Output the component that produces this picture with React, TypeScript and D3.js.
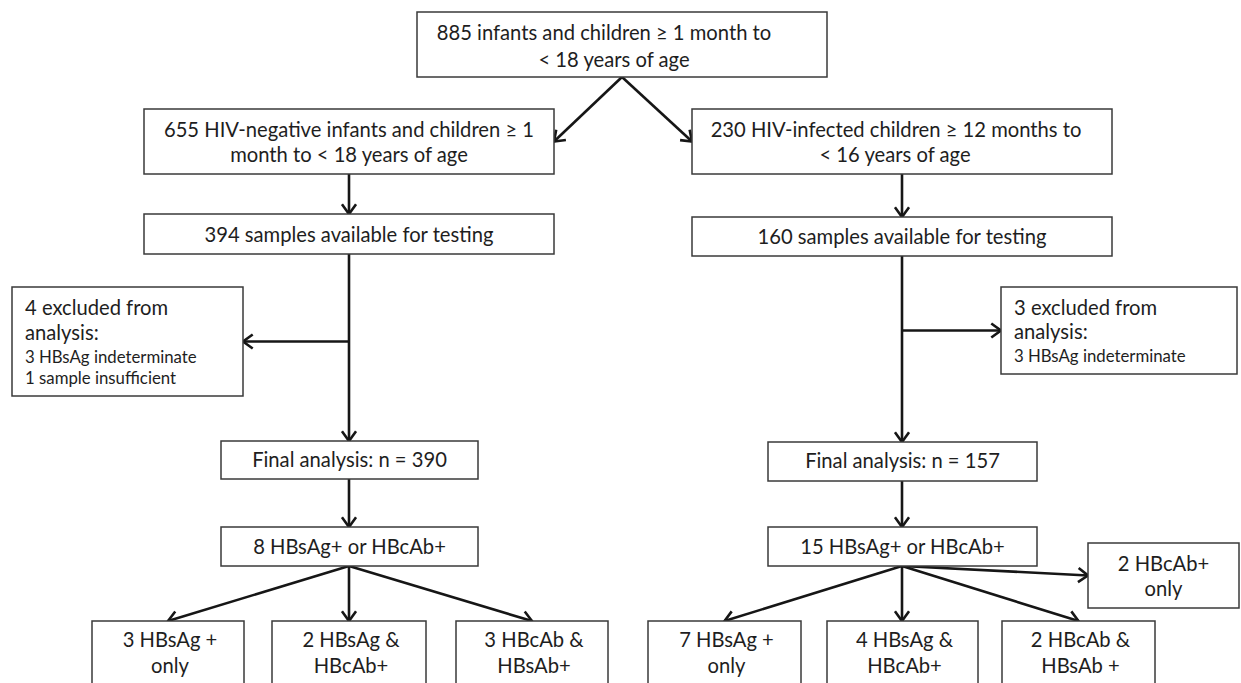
import React, { useEffect, useRef } from 'react'
import * as d3 from 'd3'

// Flow chart labels, one string per text line
const topLabel = ['885 infants and children ≥ 1 month to', '< 18 years of age']
const hivNegLabel = ['655 HIV-negative infants and children ≥ 1', 'month to < 18 years of age']
const hivPosLabel = ['230 HIV-infected children ≥ 12 months to', '< 16 years of age']
const samplesCounts = [394, 160]
const excludedCounts = [4, 3]
const excludedReasons = [
  ['3 HBsAg indeterminate', '1 sample insufficient'],
  ['3 HBsAg indeterminate'],
]
const finalCounts = [390, 157]
const positiveCounts = [8, 15]
const leftOutcomes = [['3 HBsAg +', 'only'], ['2 HBsAg &', 'HBcAb+'], ['3 HBcAb &', 'HBsAb+']]
const rightOutcomes = [['7 HBsAg +', 'only'], ['4 HBsAg &', 'HBcAb+'], ['2 HBcAb &', 'HBsAb +']]
const rightExtra = ['2 HBcAb+', 'only']

const W = 1241
const H = 683
const FONT = 'Lato, "Open Sans", sans-serif'
const BIG = 20.2
const SMALL = 16.8

interface Box {
  id: string
  x0: number
  x1: number
  y0: number
  y1: number
  lines: { text: string; y: number; size: number; dx?: number }[]
  align?: 'middle' | 'start'
  textX?: number
}

const App: React.FC = () => {
  const svgRef = useRef<SVGSVGElement | null>(null)

  useEffect(() => {
    if (!svgRef.current) return
    const svg = d3.select(svgRef.current)
    svg.selectAll('*').remove()

    const big = (text: string, y: number, dx = 0) => ({ text, y, size: BIG, dx })
    const small = (text: string, y: number) => ({ text, y, size: SMALL })

    // Box geometry (layout only, labels come from the arrays above)
    const boxes: Box[] = [
      { id: 'top', x0: 417, x1: 827, y0: 12, y1: 77, lines: [big(topLabel[0], 40, -18), big(topLabel[1], 67, -8)] },
      { id: 'neg', x0: 144, x1: 554, y0: 109, y1: 174, lines: [big(hivNegLabel[0], 137), big(hivNegLabel[1], 162)] },
      { id: 'pos', x0: 692, x1: 1112, y0: 109, y1: 174, lines: [big(hivPosLabel[0], 137, -6), big(hivPosLabel[1], 162, -7)] },
      { id: 'sampL', x0: 144, x1: 554, y0: 214, y1: 254, lines: [big(`${samplesCounts[0]} samples available for testing`, 242)] },
      { id: 'sampR', x0: 692, x1: 1112, y0: 217, y1: 256, lines: [big(`${samplesCounts[1]} samples available for testing`, 244)] },
      {
        id: 'exclL', x0: 12, x1: 243, y0: 287, y1: 396, align: 'start', textX: 25,
        lines: [big(`${excludedCounts[0]} excluded from`, 315), big('analysis:', 340), small(excludedReasons[0][0], 363), small(excludedReasons[0][1], 384)],
      },
      {
        id: 'exclR', x0: 1001, x1: 1237, y0: 287, y1: 374, align: 'start', textX: 1014,
        lines: [big(`${excludedCounts[1]} excluded from`, 315), big('analysis:', 339), small(excludedReasons[1][0], 362)],
      },
      { id: 'finL', x0: 221, x1: 478, y0: 441, y1: 479, lines: [big(`Final analysis: n = ${finalCounts[0]}`, 467)] },
      { id: 'finR', x0: 768, x1: 1037, y0: 442, y1: 481, lines: [big(`Final analysis: n = ${finalCounts[1]}`, 468)] },
      { id: 'posL', x0: 221, x1: 478, y0: 527, y1: 566, lines: [big(`${positiveCounts[0]} HBsAg+ or HBcAb+`, 554)] },
      { id: 'posR', x0: 768, x1: 1037, y0: 527, y1: 566, lines: [big(`${positiveCounts[1]} HBsAg+ or HBcAb+`, 554)] },
      { id: 'extra', x0: 1088, x1: 1239, y0: 543, y1: 608, lines: [big(rightExtra[0], 571), big(rightExtra[1], 596)] },
    ]
    const outX = [[92, 244], [272, 426], [456, 608], [648, 801], [827, 978], [1002, 1155]]
    ;[...leftOutcomes, ...rightOutcomes].forEach((o, i) => {
      boxes.push({
        id: `out${i}`, x0: outX[i][0], x1: outX[i][1], y0: 621, y1: 700,
        lines: [big(o[0], 647, 2), big(o[1], 673, 2)],
      })
    })
    const byId = new Map(boxes.map(b => [b.id, b]))
    const b = (id: string) => byId.get(id)!
    const cx = (bx: Box) => (bx.x0 + bx.x1) / 2
    const cy = (bx: Box) => (bx.y0 + bx.y1) / 2

    svg.append('rect').attr('width', W).attr('height', H).attr('fill', '#fff')

    // Connectors: [from, to] points; the last point gets an arrow head
    const colL = cx(b('sampL'))
    const colR = 902
    const arrows: [number, number][][] = [
      [[622, b('top').y1], [b('neg').x1, cy(b('neg'))]],
      [[622, b('top').y1], [b('pos').x0, cy(b('pos'))]],
      [[colL, b('neg').y1], [colL, b('sampL').y0]],
      [[colR, b('pos').y1], [colR, b('sampR').y0]],
      [[colL, b('sampL').y1], [colL, b('finL').y0]],
      [[colR, b('sampR').y1], [colR, b('finR').y0]],
      [[colL, cy(b('exclL'))], [b('exclL').x1, cy(b('exclL'))]],
      [[colR, cy(b('exclR'))], [b('exclR').x0, cy(b('exclR'))]],
      [[colL, b('finL').y1], [colL, b('posL').y0]],
      [[colR, b('finR').y1], [colR, b('posR').y0]],
      [[colR, b('posR').y1], [b('extra').x0, cy(b('extra'))]],
    ]
    for (let i = 0; i < 6; i++) {
      const src = i < 3 ? [colL, b('posL').y1] : [colR, b('posR').y1]
      const o = b(`out${i}`)
      const tx = i === 1 ? colL : i === 4 ? colR : cx(o)
      arrows.push([[src[0], src[1]], [tx, o.y0]])
    }

    const line = d3.line()
    const head = 12
    const spread = (36 * Math.PI) / 180
    const gArrows = svg.append('g')
    arrows.forEach(pts => {
      gArrows.append('path')
        .attr('d', line(pts))
        .attr('fill', 'none')
        .attr('stroke', '#161616')
        .attr('stroke-width', 2.6)
      const [p0, p1] = pts.slice(-2)
      const ang = Math.atan2(p1[1] - p0[1], p1[0] - p0[0])
      const w1: [number, number] = [p1[0] - head * Math.cos(ang - spread), p1[1] - head * Math.sin(ang - spread)]
      const w2: [number, number] = [p1[0] - head * Math.cos(ang + spread), p1[1] - head * Math.sin(ang + spread)]
      gArrows.append('path')
        .attr('d', line([w1, p1, w2]))
        .attr('fill', 'none')
        .attr('stroke', '#161616')
        .attr('stroke-width', 2.6)
        .attr('stroke-linejoin', 'miter')
    })

    // Boxes
    const gBoxes = svg.append('g')
    boxes.forEach(bx => {
      gBoxes.append('rect')
        .attr('x', bx.x0)
        .attr('y', bx.y0)
        .attr('width', bx.x1 - bx.x0)
        .attr('height', bx.y1 - bx.y0)
        .attr('fill', '#fff')
        .attr('stroke', '#3a3a3a')
        .attr('stroke-width', 1.5)
      const anchor = bx.align || 'middle'
      const x = anchor === 'start' ? bx.textX! : cx(bx)
      bx.lines.forEach(l => {
        gBoxes.append('text')
          .attr('x', x + (l.dx || 0))
          .attr('y', l.y)
          .attr('text-anchor', anchor)
          .attr('font-family', FONT)
          .attr('font-size', l.size)
          .attr('fill', '#1e1e1e')
          .text(l.text)
      })
    })
  }, [])

  return (
    <svg
      ref={svgRef}
      width={W}
      height={H}
      style={{ position: 'absolute', left: 0, top: 0, display: 'block' }}
    />
  )
}

export default App
